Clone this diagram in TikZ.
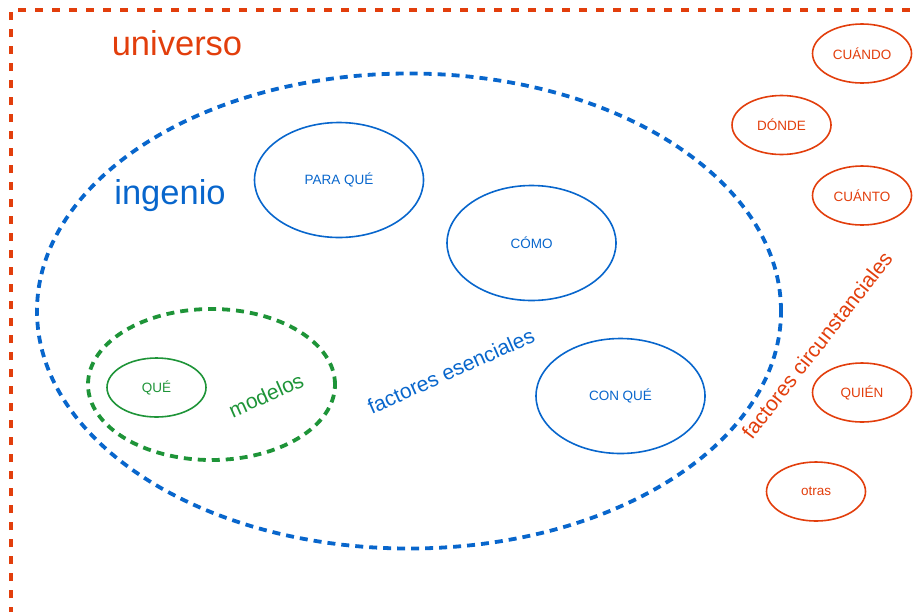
\documentclass[tikz,border=0pt]{standalone}
\usepackage{fontspec}
\setmainfont{Liberation Sans}
\usetikzlibrary{shapes.geometric}
\definecolor{univred}{RGB}{226,62,12}
\definecolor{ingblue}{RGB}{8,102,204}
\definecolor{modgreen}{RGB}{30,148,56}
\tikzset{
  oval/.style={ellipse, draw, line width=1.6pt, inner sep=0pt,
    minimum width=99pt, minimum height=59pt, font=\fontsize{13.5}{15}\selectfont},
  bigoval/.style={oval, minimum width=169pt, minimum height=115pt},
  circum/.style={oval, draw=univred, text=univred},
  essential/.style={bigoval, draw=ingblue, text=ingblue},
  bigtitle/.style={font=\fontsize{34.5}{38}\selectfont},
  tag/.style={font=\fontsize{21}{24}\selectfont},
  region/.style={ellipse, line width=3.8pt, dash pattern=on 8pt off 6pt, inner sep=0pt}
}
\begin{document}
\begin{tikzpicture}[x=1pt,y=-1pt]
\useasboundingbox (0,0) rectangle (917,611);
% universe frame, open to the right and bottom
\coordinate (fb) at (11,615);
\coordinate (fc) at (11,10);
\coordinate (fr) at (921,10);
\draw[univred, line width=3.2pt, dash pattern=on 8pt off 9pt] (fb) -- (fc) -- (fr);
\node[bigtitle, text=univred] (universo) at (177,43) {universo};

% ingenio: essential factors
\node[region, draw=ingblue, minimum width=744pt, minimum height=475pt] (ingenio) at (409,311) {};
\node[bigtitle, text=ingblue] (ingtitle) at (170,196) {ingenio};
\node[essential] (paraque) at (339,180) {PARA QUÉ};
\node[essential] (como) at (531.5,243) {CÓMO};
\node[essential] (conque) at (620.5,396) {CON QUÉ};
\node[tag, text=ingblue, rotate=24] (esenciales) at (451,371) {factores esenciales};

% modelos
\node[region, draw=modgreen, minimum width=247pt, minimum height=151pt] (modelos) at (211.5,384.5) {};
\node[oval, draw=modgreen, text=modgreen] (que) at (156.5,387.5) {QUÉ};
\node[tag, text=modgreen, rotate=24] (modtag) at (266,395) {modelos};

% circumstantial factors
\node[circum] (cuando) at (862,53.5) {CUÁNDO};
\node[circum] (donde) at (781.5,125) {DÓNDE};
\node[circum] (cuanto) at (862,195.5) {CUÁNTO};
\node[circum] (quien) at (862,392.5) {QUIÉN};
\node[circum] (otras) at (816,491.5) {otras};
\node[tag, text=univred, rotate=52] (circunst) at (817,345) {factores circunstanciales};
\end{tikzpicture}
\end{document}
